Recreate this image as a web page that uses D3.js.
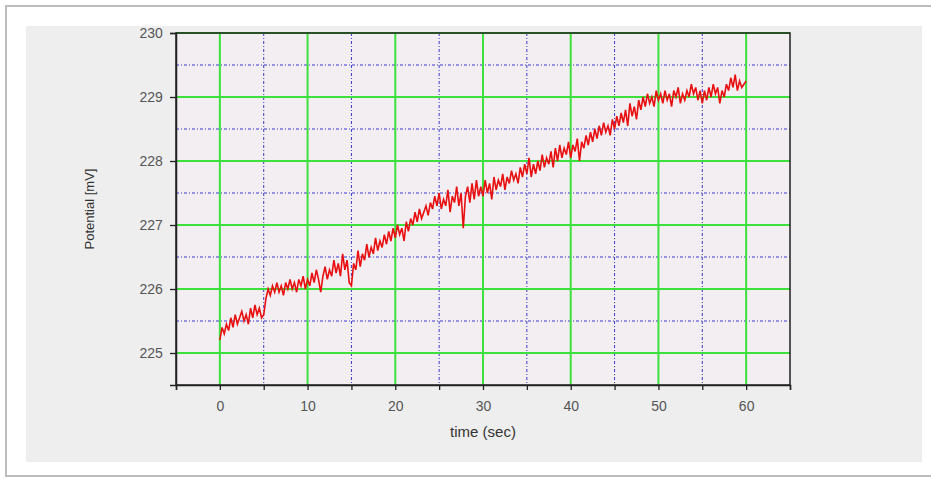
<!DOCTYPE html>
<html>
<head>
<meta charset="utf-8">
<script src="https://cdn.jsdelivr.net/npm/d3@7"></script>
<style>
  body { margin: 0; background: #fff; }
  svg { display: block; font-family: "Liberation Sans", Arial, sans-serif; }
</style>
</head>
<body>
<svg id="chart"></svg>
<script>
// sample interval (sec) and recorded potential values [mV]
const dt = 0.25;
const potential = [
  225.2, 225.4, 225.3, 225.45, 225.35, 225.55, 225.4, 225.6, 225.45, 225.55, 225.65, 225.5, 225.6, 225.45, 225.7, 225.55, 225.75, 225.6, 225.7, 225.55,
  225.6, 225.85, 226.0, 225.9, 226.05, 225.95, 226.1, 225.95, 226.05, 225.9, 226.1, 226.0, 226.15, 226.0, 226.1, 225.95, 226.15, 226.05, 226.2, 226.0,
  226.15, 226.05, 226.25, 226.1, 226.3, 226.15, 225.95, 226.2, 226.35, 226.15, 226.3, 226.2, 226.45, 226.25, 226.4, 226.2, 226.55, 226.3, 226.45, 226.1,
  226.05, 226.4, 226.3, 226.6, 226.35, 226.55, 226.45, 226.7, 226.5, 226.65, 226.55, 226.8, 226.6, 226.75, 226.65, 226.85, 226.7, 226.9, 226.75, 226.95,
  226.8, 227.0, 226.85, 226.95, 226.75, 227.05, 226.9, 227.1, 227.0, 227.2, 227.05, 227.25, 227.1, 227.2, 227.3, 227.15, 227.35, 227.25, 227.45, 227.3,
  227.5, 227.25, 227.4, 227.3, 227.55, 227.2, 227.45, 227.35, 227.6, 227.3, 227.5, 226.95, 227.45, 227.6, 227.35, 227.65, 227.4, 227.7, 227.45, 227.6,
  227.45, 227.7, 227.5, 227.65, 227.4, 227.75, 227.55, 227.7, 227.6, 227.8, 227.55, 227.75, 227.65, 227.85, 227.7, 227.8, 227.65, 227.9, 227.75, 227.95,
  227.8, 228.05, 227.75, 227.95, 227.8, 228.0, 227.85, 228.1, 227.9, 228.05, 227.95, 228.15, 227.9, 228.2, 228.0, 228.25, 228.05, 228.2, 228.1, 228.3,
  228.05, 228.25, 228.15, 228.35, 228.0, 228.3, 228.2, 228.4, 228.25, 228.45, 228.3, 228.5, 228.35, 228.55, 228.4, 228.6, 228.45, 228.55, 228.4, 228.65,
  228.5, 228.7, 228.55, 228.75, 228.6, 228.8, 228.55, 228.9, 228.7, 228.85, 228.65, 228.95, 228.8, 229.0, 228.85, 229.05, 228.9, 229.0, 228.85, 229.1,
  228.95, 229.05, 228.9, 229.1, 228.95, 229.05, 228.85, 229.1, 229.0, 229.15, 228.9, 229.05, 228.95, 229.1, 229.0, 229.2, 229.05, 229.15, 228.95, 229.1,
  228.9, 229.1, 228.95, 229.15, 229.0, 229.2, 229.05, 229.15, 228.9, 229.1, 229.0, 229.2, 229.1, 229.3, 229.15, 229.35, 229.1, 229.25, 229.15, 229.2,
  229.25
];
const xMajor = [0, 10, 20, 30, 40, 50, 60];
const xMinor = [5, 15, 25, 35, 45, 55];
const xTicks = [-5, 0, 5, 10, 15, 20, 25, 30, 35, 40, 45, 50, 55, 60, 65];
const yMajor = [225, 226, 227, 228, 229, 230];
const yMinor = [225.5, 226.5, 227.5, 228.5, 229.5];

const W = 931, H = 479;
const box = { left: 176, right: 790, top: 33, bottom: 385 };

const svg = d3.select('#chart').attr('width', W).attr('height', H);

// outer frame and gray panel
svg.append('rect').attr('x', 6).attr('y', 6).attr('width', 940).attr('height', 470)
  .attr('fill', '#fff').attr('stroke', '#bdbdbd').attr('stroke-width', 2);
svg.append('rect').attr('x', 26).attr('y', 26).attr('width', 896).attr('height', 436)
  .attr('fill', '#eeeeee');

const x = d3.scaleLinear().domain([-5, 65]).range([box.left, box.right]);
const y = d3.scaleLinear().domain([224.5, 230]).range([box.bottom, box.top]);

// plot background
svg.append('rect')
  .attr('x', box.left).attr('y', box.top)
  .attr('width', box.right - box.left).attr('height', box.bottom - box.top)
  .attr('fill', '#f2eef2');

const grid = svg.append('g');

// minor grid, blue dash-dot
grid.selectAll('.vmin').data(xMinor).enter().append('line')
  .attr('x1', d => x(d)).attr('x2', d => x(d))
  .attr('y1', box.top).attr('y2', box.bottom)
  .attr('stroke', '#3b3bd0').attr('stroke-width', 1).attr('stroke-dasharray', '3,2,1,2');
grid.selectAll('.hmin').data(yMinor).enter().append('line')
  .attr('x1', box.left).attr('x2', box.right)
  .attr('y1', d => y(d)).attr('y2', d => y(d))
  .attr('stroke', '#3b3bd0').attr('stroke-width', 1).attr('stroke-dasharray', '3,2,1,2');

// major grid, green
grid.selectAll('.vmaj').data(xMajor).enter().append('line')
  .attr('x1', d => x(d)).attr('x2', d => x(d))
  .attr('y1', box.top).attr('y2', box.bottom)
  .attr('stroke', '#3ee03e').attr('stroke-width', 2);
grid.selectAll('.hmaj').data(yMajor).enter().append('line')
  .attr('x1', box.left).attr('x2', box.right)
  .attr('y1', d => y(d)).attr('y2', d => y(d))
  .attr('stroke', '#3ee03e').attr('stroke-width', 2);

// data line
const line = d3.line()
  .x((d, i) => x(i * dt))
  .y(d => y(d));

svg.append('path')
  .datum(potential)
  .attr('fill', 'none')
  .attr('stroke', '#e81010')
  .attr('stroke-width', 1.6)
  .attr('stroke-linejoin', 'miter')
  .attr('d', line);

// frame
svg.append('rect')
  .attr('x', box.left).attr('y', box.top)
  .attr('width', box.right - box.left).attr('height', box.bottom - box.top)
  .attr('fill', 'none').attr('stroke', '#222').attr('stroke-width', 1.5);

// axes
const xAxis = d3.axisBottom(x).tickValues(xTicks).tickSize(5)
  .tickFormat(d => xMajor.includes(d) ? d : '');
const yAxis = d3.axisLeft(y).tickValues(yMajor).tickSize(6).tickFormat(d3.format('d'));

const gx = svg.append('g').attr('transform', `translate(0,${box.bottom})`).call(xAxis);
const gy = svg.append('g').attr('transform', `translate(${box.left},0)`).call(yAxis);

[gx, gy].forEach(g => {
  g.select('.domain').attr('stroke', '#222').attr('stroke-width', 1.5);
  g.selectAll('.tick line').attr('stroke', '#222').attr('stroke-width', 1.3);
  g.selectAll('.tick text').attr('fill', '#555').style('font-size', '14px');
});
gx.selectAll('.tick text').attr('dy', '1.3em');
gy.selectAll('.tick text').attr('dx', '-0.3em');

// axis titles
svg.append('text')
  .attr('x', x(30)).attr('y', 437)
  .attr('text-anchor', 'middle')
  .attr('fill', '#333')
  .style('font-size', '15px')
  .text('time (sec)');

svg.append('text')
  .attr('transform', `translate(94,${(box.top + box.bottom) / 2}) rotate(-90)`)
  .attr('text-anchor', 'middle')
  .attr('fill', '#333')
  .style('font-size', '13px')
  .text('Potential [mV]');
</script>
</body>
</html>
